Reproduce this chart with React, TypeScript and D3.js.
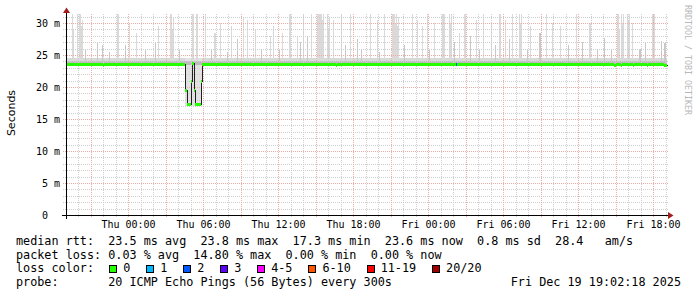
import React from 'react';
import * as d3 from 'd3';

// ---------- data ----------
const rangeStartStr = 'Wed 19:02:18';
const rangeEndStr = 'Fri 19:02:18';

// y axis (milliseconds)
const yMajorTicks = [0, 5, 10, 15, 20, 25, 30];
const yTickLabels = ['0  ', '5 m', '10 m', '15 m', '20 m', '25 m', '30 m'];
const yMinorTicks = [1, 2, 3, 4, 6, 7, 8, 9, 11, 12, 13, 14, 16, 17, 18, 19, 21, 22, 23, 24, 26, 27, 28, 29, 31];
const yMax = 31.4;

// median rtt segments (start time, ms, loss count) — each lasts until the next
const medianTimes = [
  'Wed 19:05', 'Wed 22:00', 'Wed 22:05', 'Thu 04:35', 'Thu 04:45', 'Thu 05:00', 'Thu 05:05',
  'Thu 05:15', 'Thu 05:20', 'Thu 05:50', 'Thu 05:55', 'Thu 16:40', 'Thu 16:45', 'Fri 02:15',
  'Fri 02:20', 'Fri 14:55', 'Fri 15:00', 'Fri 15:25', 'Fri 15:30', 'Fri 16:25', 'Fri 16:30',
  'Fri 17:30', 'Fri 17:35', 'Fri 18:55', 'Fri 19:00',
];
const medianValues = [
  23.6, 23.4, 23.6, 19.5, 17.3, 21.0, 23.8,
  19.5, 17.3, 21.0, 23.6, 23.4, 23.6, 23.6,
  23.6, 23.4, 23.6, 23.4, 23.6, 23.4, 23.6,
  23.4, 23.6, 23.4, 23.4,
];
const medianLoss = [
  0, 0, 0, 0, 0, 0, 0,
  0, 0, 0, 0, 0, 0, 2,
  0, 0, 0, 0, 0, 0, 0,
  0, 0, 0, 0,
];

// typical smoke band around the median (ms)
const smokeLightLo = 23.3;
const smokeLightHi = 24.6;
const smokeDarkLo = 23.5;
const smokeDarkHi = 24.0;

// smoke during the drop
const dipSmokeStart = 'Thu 04:35';
const dipSmokeEnd = 'Thu 05:55';
const dipSmokeLo = 17.1;
const dipSmokeHi = 24.6;

// tall light-grey spikes (max ping of the 5-minute step)
const spikeTimes = [
  'Wed 19:30', 'Wed 19:35', 'Wed 19:55', 'Wed 20:05', 'Wed 20:10', 'Wed 20:15', 'Wed 20:20',
  'Wed 23:05', 'Wed 23:10', 'Thu 00:05', 'Thu 00:40', 'Thu 02:25', 'Thu 03:20', 'Thu 03:25',
  'Thu 03:30', 'Thu 03:35', 'Thu 05:05', 'Thu 05:10', 'Thu 05:25', 'Thu 05:30', 'Thu 06:10',
  'Thu 06:55', 'Thu 07:20', 'Thu 08:15', 'Thu 09:10', 'Thu 09:30', 'Thu 10:10', 'Thu 11:20',
  'Thu 11:35', 'Thu 12:20', 'Thu 12:55', 'Thu 13:30', 'Thu 14:00', 'Thu 14:40', 'Thu 15:05',
  'Thu 15:10', 'Thu 15:15', 'Thu 15:20', 'Thu 15:25', 'Thu 15:30', 'Thu 15:35', 'Thu 15:55',
  'Thu 16:00', 'Thu 16:05', 'Thu 16:25', 'Thu 17:00', 'Thu 17:45', 'Thu 19:20', 'Thu 19:55',
  'Thu 20:30', 'Thu 21:05', 'Thu 21:10', 'Thu 21:15', 'Thu 21:20', 'Thu 21:25', 'Thu 21:30',
  'Thu 21:35', 'Thu 22:45', 'Thu 23:05', 'Thu 23:30', 'Thu 23:55', 'Fri 00:30', 'Fri 01:05',
  'Fri 01:10', 'Fri 01:15', 'Fri 01:40', 'Fri 01:45', 'Fri 01:50', 'Fri 02:30', 'Fri 02:55',
  'Fri 03:50', 'Fri 04:25', 'Fri 05:00', 'Fri 05:40', 'Fri 05:45', 'Fri 06:10', 'Fri 06:45',
  'Fri 07:15', 'Fri 07:20', 'Fri 07:25', 'Fri 08:10', 'Fri 09:25', 'Fri 09:55', 'Fri 10:35',
  'Fri 11:50', 'Fri 12:55', 'Fri 15:05', 'Fri 15:10', 'Fri 15:15', 'Fri 15:25', 'Fri 15:30',
  'Fri 15:35', 'Fri 15:55', 'Fri 16:00', 'Fri 16:05', 'Fri 16:20', 'Fri 17:55', 'Fri 18:00',
  'Fri 18:05',
];
const spikeValues = [
  31.4, 29.0, 31.4, 31.4, 31.4, 29.5, 30.5,
  31.4, 31.4, 30.0, 28.5, 29.5, 31.4, 31.4,
  29.0, 31.0, 31.4, 31.4, 31.4, 31.4, 31.4,
  28.5, 30.0, 29.5, 31.0, 30.5, 29.0, 28.0,
  29.5, 28.5, 31.4, 28.0, 31.4, 31.4, 31.4,
  31.4, 31.4, 31.4, 31.4, 30.5, 31.4, 31.4,
  29.0, 31.0, 30.5, 31.4, 31.4, 31.4, 30.5,
  31.4, 31.4, 31.4, 31.4, 30.0, 31.4, 29.5,
  31.0, 31.4, 30.5, 29.5, 31.4, 30.0, 31.4,
  31.4, 31.4, 31.4, 30.0, 31.4, 28.5, 31.4,
  30.5, 31.4, 30.0, 31.4, 31.4, 30.5, 31.4,
  31.4, 30.0, 31.4, 29.5, 31.4, 30.0, 29.5,
  31.4, 30.0, 31.4, 31.4, 29.0, 31.4, 30.0,
  31.4, 31.4, 30.5, 31.4, 30.0, 31.4, 31.4,
  31.4,
];

// medium darker smoke bumps
const bumpTimes = [
  'Wed 20:35', 'Wed 21:30', 'Wed 21:55', 'Wed 22:30', 'Wed 23:45', 'Thu 01:20', 'Thu 02:10',
  'Thu 04:05', 'Thu 06:40', 'Thu 07:55', 'Thu 08:45', 'Thu 10:40', 'Thu 12:05', 'Thu 13:45',
  'Thu 14:20', 'Thu 17:20', 'Thu 18:20', 'Thu 18:40', 'Thu 20:05', 'Thu 22:05', 'Fri 00:05',
  'Fri 02:05', 'Fri 03:20', 'Fri 04:05', 'Fri 05:20', 'Fri 06:30', 'Fri 07:55', 'Fri 08:55',
  'Fri 11:10', 'Fri 12:20', 'Fri 13:30', 'Fri 14:05', 'Fri 14:40', 'Fri 16:55', 'Fri 17:20',
  'Fri 18:40', 'Fri 18:55',
];
const bumpValues = [
  26.0, 27.0, 26.5, 25.5, 26.5, 25.8, 27.0,
  26.0, 26.0, 25.5, 27.5, 26.0, 25.8, 27.0,
  28.0, 26.5, 27.5, 26.0, 25.5, 26.5, 25.8,
  27.0, 28.0, 26.0, 26.5, 27.5, 26.0, 28.5,
  26.5, 27.0, 25.8, 27.6, 26.0, 26.0, 27.0,
  27.2, 26.8,
];

// legend
const medianStats = ['23.5', '23.8', '17.3', '23.6'];
const sdValue = '0.8';
const amsValue = '28.4';
const lossStats = ['0.03', '14.80', '0.00', '0.00'];
const lossLabels = ['0', '1', '2', '3', '4-5', '6-10', '11-19', '20/20'];
const lossColors = ['#26ff00', '#00b8ff', '#0059ff', '#5e00ff', '#ff00ff', '#ff5500', '#ff0000', '#a10000'];
const probeText = '20 ICMP Echo Pings (56 Bytes) every 300s';
const dateText = 'Fri Dec 19 19:02:18 2025';
const watermark = 'RRDTOOL / TOBI OETIKER';
const yTitle = 'Seconds';

// ---------- helpers ----------
const dayOfMonth: Record<string, number> = { Wed: 17, Thu: 18, Fri: 19 };
function T(s: string): Date {
  const [d, hms] = s.split(' ');
  const p = hms.split(':').map(Number);
  return new Date(2025, 11, dayOfMonth[d], p[0], p[1], p[2] || 0);
}
const STEP = 5 * 60 * 1000;
const nb = (s: string) => s.replace(/ /g, '\u00A0');

const MONO = '"DejaVu Sans Mono", "Liberation Mono", monospace';
const SANS = '"DejaVu Sans", "Liberation Sans", sans-serif';

export default function App() {
  const W = 697;
  const H = 297;
  const plotL = 66.5;
  const plotR = 666.5;
  const plotB = 215;
  const plotT = 14;

  const start = T(rangeStartStr);
  const end = T(rangeEndStr);
  const x = d3.scaleTime().domain([start, end]).range([plotL, plotR]);
  const y = d3.scaleLinear().domain([0, yMax]).range([plotB, plotT]);

  const px = (t: Date) => Math.floor(x(t));
  const gy = (v: number) => Math.round(y(v)) + 0.5;

  const hours = d3.timeHour.range(start, end);
  const minorHours = hours.filter((h) => h.getHours() % 3 !== 0);
  const majorHours = hours.filter((h) => h.getHours() % 3 === 0);
  const labelHours = hours.filter((h) => h.getHours() % 6 === 0);
  const fmt = d3.timeFormat('%a %H:%M');

  const medianStarts = medianTimes.map(T);
  const segs = medianStarts.map((t, i) => ({
    t0: t,
    t1: i + 1 < medianStarts.length ? medianStarts[i + 1] : new Date(+t + STEP),
    v: medianValues[i],
    loss: medianLoss[i],
  }));
  const lineData: [Date, number][] = segs.map((s) => [s.t0, s.v]);
  lineData.push([segs[segs.length - 1].t1, segs[segs.length - 1].v]);
  const stepLine = d3
    .line<[Date, number]>()
    .x((d) => px(d[0]) + 0.5)
    .y((d) => Math.round(y(d[1])) + 0.5)
    .curve(d3.curveStepAfter);

  const lossColorFor = (l: number) => {
    if (l === 0) return lossColors[0];
    if (l === 1) return lossColors[1];
    if (l === 2) return lossColors[2];
    if (l === 3) return lossColors[3];
    if (l <= 5) return lossColors[4];
    if (l <= 10) return lossColors[5];
    if (l <= 19) return lossColors[6];
    return lossColors[7];
  };

  const barRect = (ts: string, lo: number, hi: number) => {
    const t0 = T(ts);
    const t1 = new Date(+t0 + STEP);
    const x0 = px(t0);
    const w = Math.max(1, px(t1) - x0);
    const y0 = Math.round(y(hi));
    const y1 = Math.round(y(lo));
    return { x: x0, y: y0, width: w, height: Math.max(1, y1 - y0) };
  };

  const charW = 7.1;
  const legendFont = 11.79;
  const lx = 16;
  const row1 =
    `median rtt:  ${medianStats[0]} ms avg  ${medianStats[1]} ms max  ${medianStats[2]} ms min  ` +
    `${medianStats[3]} ms now  ${sdValue} ms sd  ${amsValue}   am/s`;
  const row2 =
    `packet loss: ${lossStats[0]} % avg  ${lossStats[1]} % max  ${lossStats[2]} % min  ${lossStats[3]} % now`;
  const row4 = `probe:       ${probeText}`;

  // loss color legend positions
  const legendItems: { bx: number; label: string; color: string }[] = [];
  let bx = lx + 13 * charW + 0.7;
  lossLabels.forEach((lab, i) => {
    legendItems.push({ bx, label: lab, color: lossColors[i] });
    bx += 2 * charW + (lab.length + 2) * charW + 1.5;
  });

  const dS = T(dipSmokeStart);
  const dE = T(dipSmokeEnd);

  const minorColor = '#cfcfcf';
  const majorColor = '#f0abab';

  return (
    <svg
      width={W}
      height={H}
      style={{ position: 'absolute', left: 0, top: 0, background: '#fff' }}
      xmlns="http://www.w3.org/2000/svg"
    >
      <rect x={0} y={0} width={W} height={H} fill="#ffffff" />

      {/* smoke */}
      <g shapeRendering="crispEdges">
        <rect
          x={plotL}
          y={Math.round(y(smokeLightHi))}
          width={plotR - plotL}
          height={Math.round(y(smokeLightLo)) - Math.round(y(smokeLightHi))}
          fill="#d9d9d9"
        />
        <rect
          x={px(dS)}
          y={Math.round(y(dipSmokeHi))}
          width={px(dE) - px(dS)}
          height={Math.round(y(dipSmokeLo)) - Math.round(y(dipSmokeHi))}
          fill="#e2e2e2"
        />
        {spikeTimes.map((ts, i) => {
          const r = barRect(ts, smokeLightLo, spikeValues[i]);
          return <rect key={'s' + i} {...r} fill="#dadada" />;
        })}
        {bumpTimes.map((ts, i) => {
          const r = barRect(ts, smokeLightLo, bumpValues[i]);
          return <rect key={'b' + i} {...r} fill="#c8c8c8" />;
        })}
        <rect
          x={plotL}
          y={Math.round(y(smokeDarkHi))}
          width={plotR - plotL}
          height={Math.round(y(smokeDarkLo)) - Math.round(y(smokeDarkHi))}
          fill="#bcbcbc"
        />
      </g>

      {/* grid */}
      <g shapeRendering="crispEdges">
        {yMinorTicks.map((v) => (
          <line key={'hm' + v} x1={63} x2={plotR + 1} y1={gy(v)} y2={gy(v)} stroke={minorColor} strokeDasharray="1,1" />
        ))}
        {minorHours.map((h) => (
          <line
            key={'vm' + +h}
            x1={px(h) + 0.5}
            x2={px(h) + 0.5}
            y1={plotT}
            y2={plotB + 3}
            stroke={minorColor}
            strokeDasharray="1,1"
          />
        ))}
        {yMajorTicks
          .filter((v) => v > 0)
          .map((v) => (
            <line key={'hM' + v} x1={63} x2={plotR + 1} y1={gy(v)} y2={gy(v)} stroke={majorColor} strokeDasharray="1,1" />
          ))}
        {majorHours.map((h) => (
          <line
            key={'vM' + +h}
            x1={px(h) + 0.5}
            x2={px(h) + 0.5}
            y1={plotT}
            y2={plotB + 3}
            stroke={majorColor}
            strokeDasharray="1,1"
          />
        ))}
      </g>

      {/* median */}
      <path d={stepLine(lineData) || ''} fill="none" stroke="#202020" strokeWidth={1} shapeRendering="crispEdges" />
      <g shapeRendering="crispEdges">
        {segs.map((s, i) => {
          const x0 = px(s.t0);
          const x1 = px(s.t1);
          const yc = Math.round(y(s.v));
          return <rect key={'m' + i} x={x0} y={yc - 1} width={Math.max(1, x1 - x0)} height={3} fill={lossColorFor(s.loss)} />;
        })}
      </g>

      {/* axes */}
      <g shapeRendering="crispEdges">
        <line x1={62} x2={669} y1={plotB + 0.5} y2={plotB + 0.5} stroke="#000" />
        <line x1={plotL} x2={plotL} y1={plotB + 4} y2={10} stroke="#000" />
      </g>
      <path d={`M${plotL - 3.5},13 L${plotL + 3.5},13 L${plotL},7.5 Z`} fill="#a11d1d" />
      <path d={`M668,${plotB + 0.5 - 3.5} L668,${plotB + 0.5 + 3.5} L673.5,${plotB + 0.5} Z`} fill="#a11d1d" />

      {/* y tick labels */}
      <g fontFamily={MONO} fontSize={10} fill="#000">
        {yMajorTicks.map((v, i) => (
          <text key={'yl' + v} x={60} y={gy(v) + 3.2} textAnchor="end">
            {nb(yTickLabels[i])}
          </text>
        ))}
      </g>

      {/* x tick labels */}
      <g fontFamily={MONO} fontSize={10} fill="#000">
        {labelHours.map((h) => (
          <text key={'xl' + +h} x={px(h) + 0.5} y={228} textAnchor="middle">
            {fmt(h)}
          </text>
        ))}
      </g>

      {/* y title */}
      <text transform={`translate(15,113) rotate(-90)`} textAnchor="middle" fontFamily={SANS} fontSize={11} fill="#000">
        {yTitle}
      </text>

      {/* watermark */}
      <text transform={`translate(685,5) rotate(90)`} fontFamily={MONO} fontSize={8.3} fill="#b8b8b8">
        {watermark}
      </text>

      {/* legend */}
      <g fontFamily={MONO} fontSize={legendFont} fill="#000">
        <text x={lx} y={245}>{nb(row1)}</text>
        <text x={lx} y={258.5}>{nb(row2)}</text>
        <text x={lx} y={272}>{nb('loss color:')}</text>
        {legendItems.map((it) => (
          <g key={'lg' + it.label}>
            <rect
              x={Math.round(it.bx) + 0.5}
              y={265.5}
              width={7}
              height={7}
              fill={it.color}
              stroke="#000"
              strokeWidth={1}
              shapeRendering="crispEdges"
            />
            <text x={it.bx + 2 * charW} y={272}>{it.label}</text>
          </g>
        ))}
        <text x={lx} y={285.5}>{nb(row4)}</text>
        <text x={681} y={285.5} textAnchor="end">{nb(dateText)}</text>
      </g>
    </svg>
  );
}
